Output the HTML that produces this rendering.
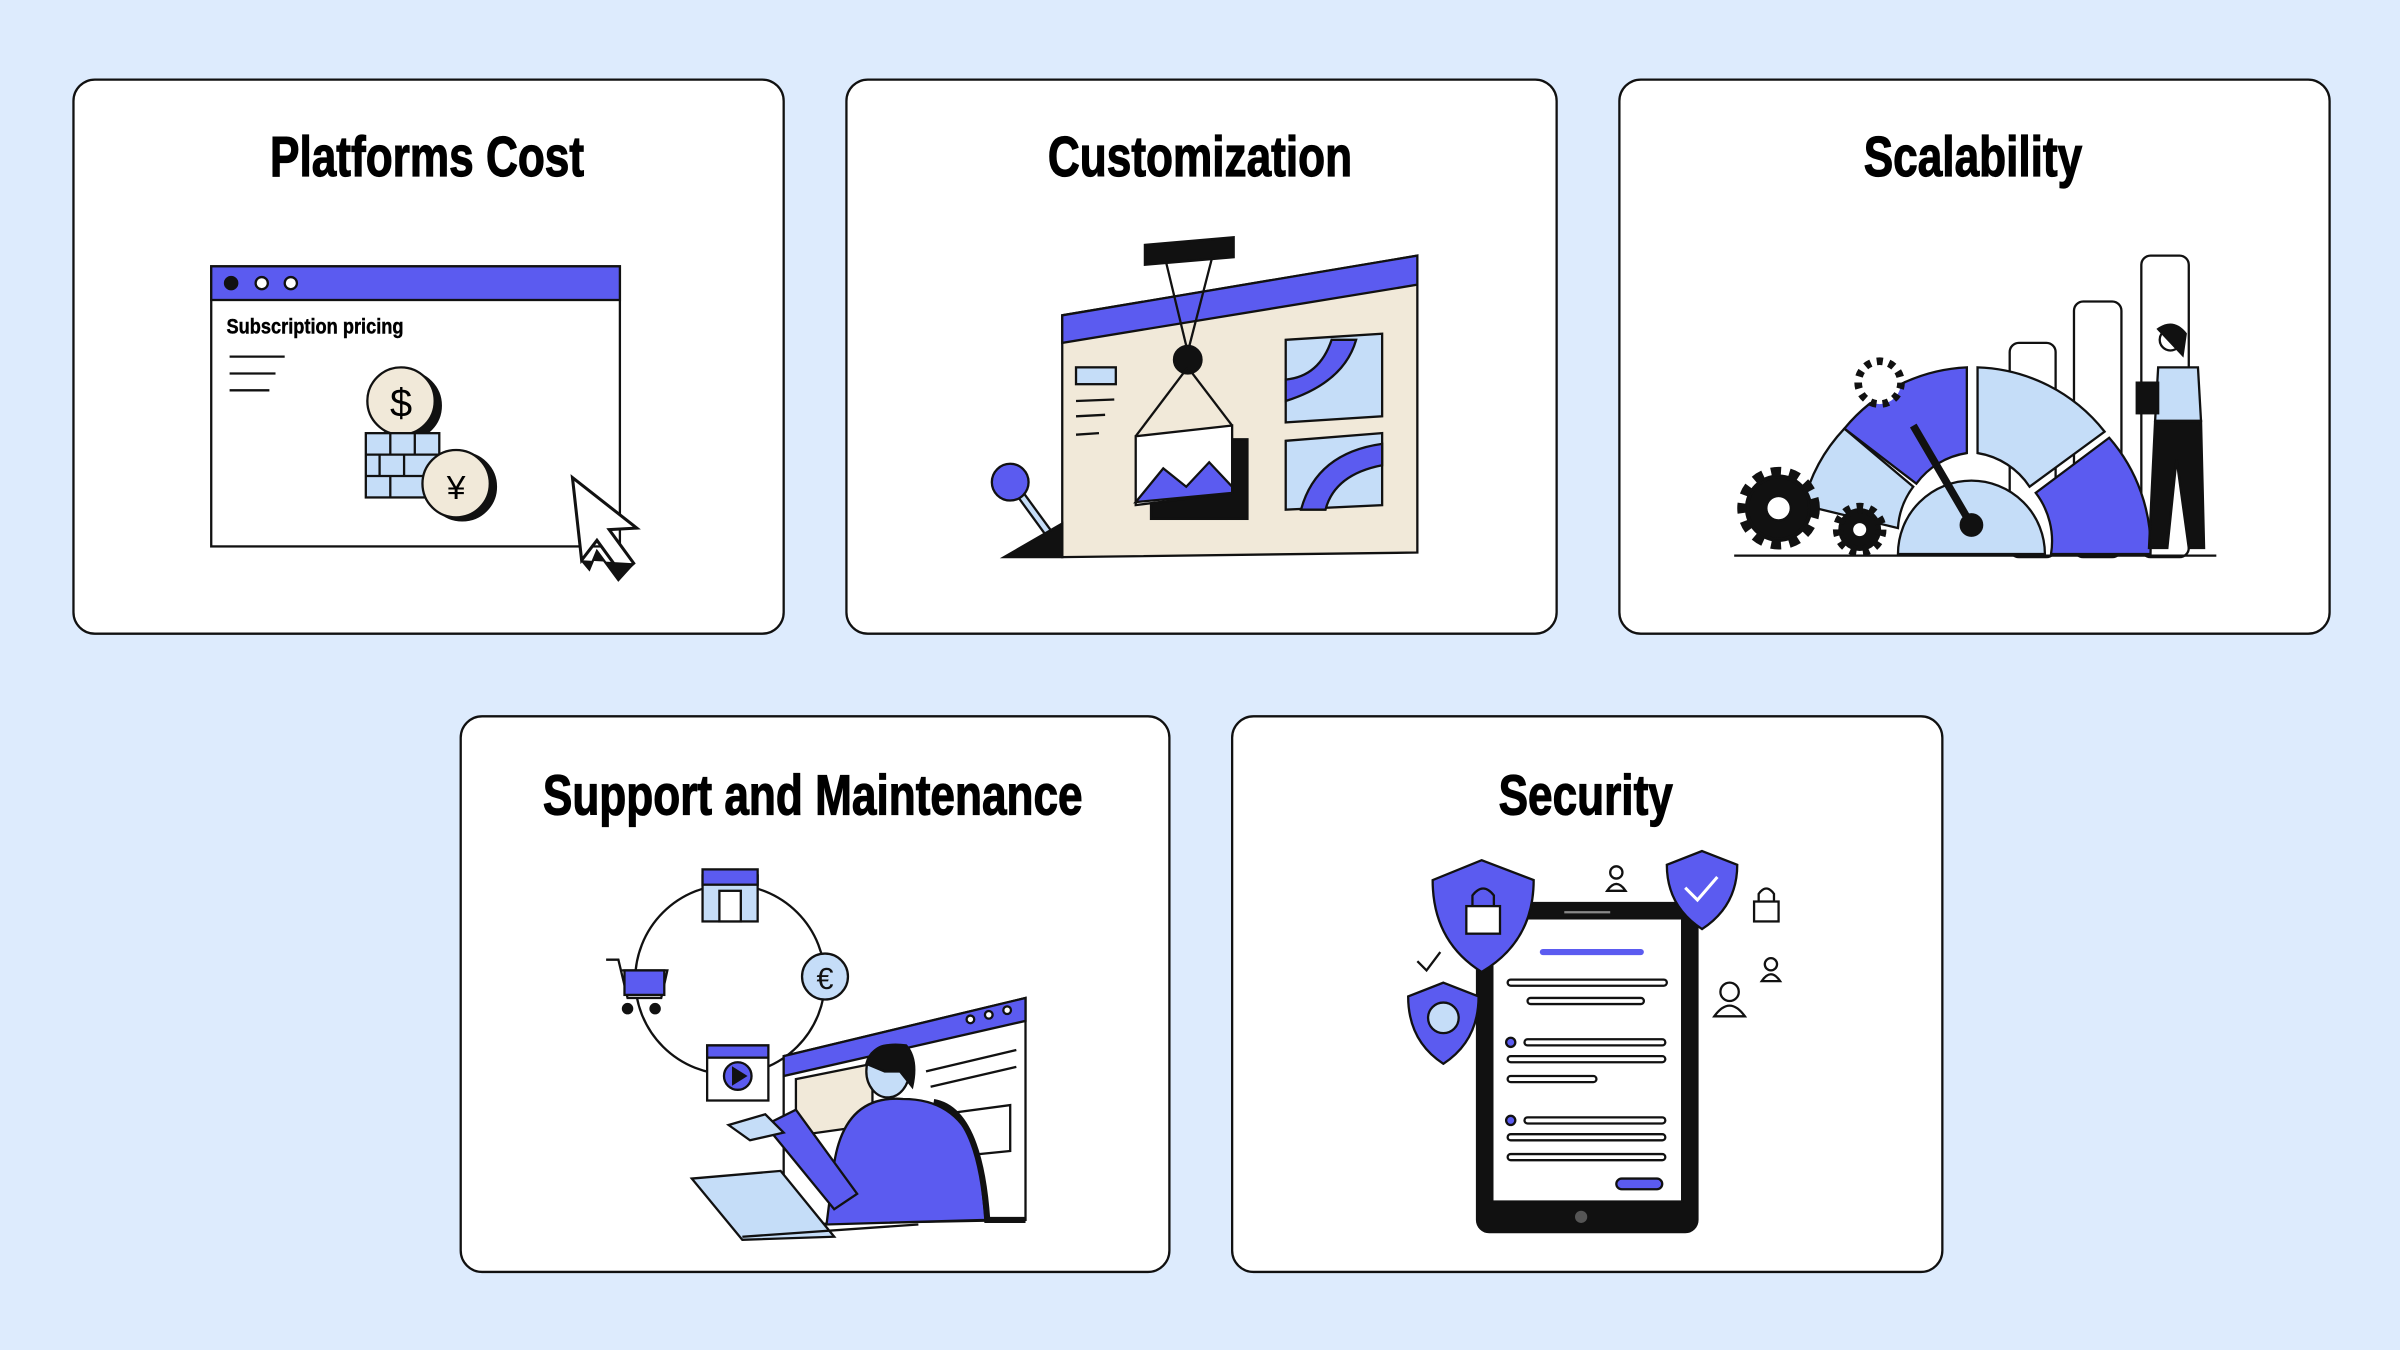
<!DOCTYPE html>
<html><head><meta charset="utf-8"><style>
html,body{margin:0;padding:0;background:#ddebfd;}
svg{display:block}
.t{font-family:"Liberation Sans Narrow","Liberation Sans",sans-serif;font-weight:bold;font-size:37px;fill:#000;stroke:#000;stroke-width:0.8;text-anchor:middle}
</style></head><body>
<svg width="2400" height="1350" viewBox="0 0 1568 882" xmlns="http://www.w3.org/2000/svg">
<rect width="1568" height="882" fill="#ddebfd"/>
<g fill="#fff" stroke="#111" stroke-width="1.5">
<rect x="48" y="52" width="464" height="362" rx="14"/>
<rect x="553" y="52" width="464" height="362" rx="14"/>
<rect x="1058" y="52" width="464" height="362" rx="14"/>
<rect x="301" y="468" width="463" height="363" rx="14"/>
<rect x="805" y="468" width="464" height="363" rx="14"/>
</g>
<text class="t" x="279" y="115" transform="translate(279 0) scale(0.78 1) translate(-279 0)">Platforms Cost</text>
<text class="t" x="784" y="115" transform="translate(784 0) scale(0.78 1) translate(-784 0)">Customization</text>
<text class="t" x="1289" y="115" transform="translate(1289 0) scale(0.78 1) translate(-1289 0)">Scalability</text>
<text class="t" x="531" y="532" transform="translate(531 0) scale(0.78 1) translate(-531 0)">Support and Maintenance</text>
<text class="t" x="1036" y="532" transform="translate(1036 0) scale(0.78 1) translate(-1036 0)">Security</text>

<!-- Card 1 -->
<g stroke="#111" stroke-width="1.5">
<rect x="138" y="174" width="267" height="183" fill="#fff"/>
<rect x="138" y="174" width="267" height="22" fill="#5b5bf0"/>
<circle cx="151" cy="185" r="4" fill="#111"/>
<circle cx="171" cy="185" r="4" fill="#fff"/>
<circle cx="190" cy="185" r="4" fill="#fff"/>
<line x1="150" y1="233" x2="186" y2="233"/><line x1="150" y1="244" x2="180" y2="244"/><line x1="150" y1="255" x2="176" y2="255"/>
<circle cx="266" cy="265" r="22" fill="#111"/>
<circle cx="262" cy="262" r="22" fill="#f1e9d9"/>
<rect x="239" y="283" width="48" height="42" fill="#c5ddf8"/>
<line x1="239" y1="297" x2="287" y2="297"/><line x1="239" y1="311" x2="287" y2="311"/>
<line x1="255" y1="283" x2="255" y2="297"/><line x1="271" y1="283" x2="271" y2="297"/>
<line x1="248" y1="297" x2="248" y2="311"/><line x1="264" y1="297" x2="264" y2="311"/><line x1="255" y1="311" x2="255" y2="325"/>
<circle cx="302" cy="318" r="22" fill="#111"/>
<circle cx="298" cy="316" r="22" fill="#f1e9d9"/>
<path d="M374 312 L416 345 L398 346 L414 368 L406 375 L390 353 L380 366 Z" fill="#fff" stroke-width="2"/>
<path d="M380 366 L385 372 L390 360 L404 379 L414 368" fill="#111"/>
</g>
<text x="148" y="218" transform="translate(148 0) scale(0.85 1) translate(-148 0)" font-family="Liberation Sans Narrow,Liberation Sans,sans-serif" font-weight="bold" font-size="14" stroke="#000" stroke-width="0.3">Subscription pricing</text>
<text x="262" y="272" text-anchor="middle" font-family="Liberation Sans,sans-serif" font-size="26">$</text>
<text x="298" y="326" text-anchor="middle" font-family="Liberation Sans,sans-serif" font-size="22">¥</text>

<!-- Card 2 -->
<g stroke="#111" stroke-width="1.5">
<path d="M694 206 L926 167 L926 361 L694 364 Z" fill="#f1e9d9"/>
<path d="M694 206 L926 167 L926 186 L694 224 Z" fill="#5b5bf0"/>
<rect x="703" y="240" width="26" height="11" fill="#c5ddf8"/>
<line x1="703" y1="262" x2="728" y2="261"/><line x1="703" y1="272" x2="722" y2="271"/><line x1="703" y1="284" x2="718" y2="283"/>
<path d="M840 222 L903 218 L903 272 L840 276 Z" fill="#c5ddf8"/>
<path d="M840 262 Q878 250 886 222 L870 222 Q862 246 840 248 Z" fill="#5b5bf0"/>
<path d="M840 288 L903 283 L903 330 L840 333 Z" fill="#c5ddf8"/>
<path d="M850 333 Q860 296 903 290 L903 304 Q872 310 866 333 Z" fill="#5b5bf0"/>
<path d="M748 160 L806 155 L806 168 L748 173 Z" fill="#111"/>
<line x1="762" y1="172" x2="776" y2="230"/><line x1="792" y1="168" x2="776" y2="230"/>
<circle cx="776" cy="235" r="9" fill="#111"/>
<line x1="776" y1="240" x2="742" y2="285"/><line x1="776" y1="240" x2="805" y2="278"/>
<rect x="752" y="287" width="63" height="52" fill="#111"/>
<path d="M742 285 L805 278 L805 322 L742 330 Z" fill="#fff"/>
<path d="M742 328 L760 306 L775 318 L790 302 L805 318 L805 322 Z" fill="#5b5bf0"/>
<line x1="663" y1="318" x2="690" y2="355" stroke-width="6"/>
<line x1="663" y1="318" x2="690" y2="355" stroke="#c5ddf8" stroke-width="3"/>
<circle cx="660" cy="315" r="12" fill="#5b5bf0"/>
<path d="M656 364 L694 364 L694 342 Z" fill="#111"/>
</g>

<!-- Card 3 -->
<g stroke="#111" stroke-width="1.5">
<rect x="1313" y="224" width="30" height="140" rx="6" fill="#fff"/>
<rect x="1355" y="197" width="31" height="167" rx="6" fill="#fff"/>
<rect x="1399" y="167" width="31" height="197" rx="6" fill="#fff"/>
<path d="M1178 330 A110 110 0 0 1 1205 280 L1250 318 A50 50 0 0 0 1240 345 Z" fill="#c5ddf8"/>
<path d="M1205 280 A110 110 0 0 1 1285 240 L1285 296 A50 50 0 0 0 1252 316 Z" fill="#5b5bf0"/>
<path d="M1292 240 A110 110 0 0 1 1375 282 L1326 318 A50 50 0 0 0 1292 296 Z" fill="#c5ddf8"/>
<path d="M1378 286 A110 110 0 0 1 1405 362 L1340 362 A52 52 0 0 0 1330 322 Z" fill="#5b5bf0"/>
<path d="M1240 362 A48 48 0 0 1 1336 362 Z" fill="#c5ddf8"/>
<line x1="1288" y1="343" x2="1250" y2="278" stroke-width="5"/>
<circle cx="1288" cy="343" r="7" fill="#111"/>
<circle cx="1162" cy="332" r="22" fill="#111" stroke-dasharray="6 5" stroke-width="10"/>
<circle cx="1162" cy="332" r="20" fill="#111"/>
<circle cx="1162" cy="332" r="8" fill="#fff"/>
<circle cx="1215" cy="346" r="14" fill="#111" stroke-dasharray="4 4" stroke-width="7"/>
<circle cx="1215" cy="346" r="5" fill="#fff"/>
<circle cx="1228" cy="250" r="14" fill="#fff" stroke-dasharray="4 4" stroke-width="5"/>
<line x1="1133" y1="363" x2="1448" y2="363"/>
<circle cx="1418" cy="222" r="7" fill="#fff"/>
<path d="M1410 215 Q1420 208 1428 218 L1426 232 Z" fill="#111"/>
<path d="M1410 240 L1436 240 L1438 275 L1408 275 Z" fill="#c5ddf8"/>
<path d="M1408 275 L1438 275 L1440 358 L1430 358 L1422 300 L1416 358 L1404 358 Z" fill="#111"/>
<rect x="1396" y="250" width="14" height="20" fill="#111"/>
</g>

<!-- Card 4 -->
<g stroke="#111" stroke-width="1.5" fill="none">
<circle cx="477" cy="640" r="62"/>
<rect x="459" y="572" width="36" height="30" fill="#c5ddf8"/>
<rect x="459" y="568" width="36" height="10" fill="#5b5bf0"/>
<rect x="470" y="582" width="14" height="20" fill="#fff"/>
<path d="M396 627 L404 627 L410 652 L432 652 L436 634 L405 634" fill="#fff"/>
<rect x="408" y="634" width="26" height="16" fill="#5b5bf0"/>
<circle cx="410" cy="659" r="3" fill="#111"/><circle cx="428" cy="659" r="3" fill="#111"/>
<circle cx="539" cy="638" r="15" fill="#c5ddf8"/>
<text x="539" y="646" text-anchor="middle" font-family="Liberation Sans,sans-serif" font-size="20" fill="#111" stroke="none">€</text>
<rect x="462" y="683" width="40" height="36" fill="#fff"/>
<rect x="462" y="683" width="40" height="8" fill="#5b5bf0"/>
<circle cx="482" cy="703" r="9" fill="#5b5bf0"/>
<path d="M479 698 L487 703 L479 708 Z" fill="#111"/>
<path d="M512 690 L670 652 L670 797 L512 800 Z" fill="#fff"/>
<path d="M512 690 L670 652 L670 667 L512 703 Z" fill="#5b5bf0"/>
<circle cx="634" cy="666" r="2.5" fill="#fff"/><circle cx="646" cy="663" r="2.5" fill="#fff"/><circle cx="658" cy="660" r="2.5" fill="#fff"/>
<path d="M520 705 L570 695 L570 735 L520 742 Z" fill="#f1e9d9"/>
<line x1="605" y1="700" x2="664" y2="686"/><line x1="608" y1="710" x2="664" y2="697"/>
<path d="M600 730 L660 722 L660 752 L600 758 Z"/>
<path d="M545 760 Q552 715 590 718 Q630 718 640 760 L644 797 L540 800 Z" fill="#5b5bf0"/>
<path d="M500 735 L545 790 L560 780 L520 725 Z" fill="#5b5bf0"/>
<path d="M610 720 Q640 725 645 797 L670 797" stroke-width="4"/>
<ellipse cx="580" cy="700" rx="14" ry="17" fill="#c5ddf8"/>
<path d="M566 695 Q570 680 592 683 Q600 692 596 710 L588 700 L578 700 Z" fill="#111"/>
<path d="M476 735 L500 728 L512 740 L490 745 Z" fill="#c5ddf8"/>
<path d="M452 770 L510 765 L545 808 L485 810 Z" fill="#c5ddf8"/>
<line x1="485" y1="808" x2="600" y2="800"/>
</g>

<!-- Card 5 -->
<g stroke="#111" stroke-width="1.5">
<rect x="965" y="590" width="144" height="215" rx="8" fill="#111"/>
<rect x="975" y="600" width="124" height="185" fill="#fff"/>
<circle cx="1033" cy="795" r="4" fill="#555" stroke="none"/>
<line x1="1022" y1="596" x2="1052" y2="596" stroke="#888"/>
<rect x="1006" y="620" width="68" height="4" rx="2" fill="#5b5bf0" stroke="none"/>
<g fill="#fff">
<rect x="985" y="640" width="104" height="4" rx="2"/><rect x="998" y="652" width="76" height="4" rx="2"/>
<rect x="996" y="679" width="92" height="4" rx="2"/><rect x="985" y="690" width="103" height="4" rx="2"/><rect x="985" y="703" width="58" height="4" rx="2"/>
<rect x="996" y="730" width="92" height="4" rx="2"/><rect x="985" y="741" width="103" height="4" rx="2"/><rect x="985" y="754" width="103" height="4" rx="2"/>
</g>
<circle cx="987" cy="681" r="3" fill="#5b5bf0"/><circle cx="987" cy="732" r="3" fill="#5b5bf0"/>
<rect x="1056" y="770" width="30" height="7" rx="3.5" fill="#5b5bf0"/>
<path d="M968 562 L1002 575 Q1002 615 968 635 Q936 615 936 575 Z" fill="#5b5bf0"/>
<rect x="958" y="592" width="22" height="18" fill="#fff"/>
<path d="M962 592 L962 585 Q969 576 976 585 L976 592" fill="none"/>
<path d="M943 642 L966 651 Q966 680 943 695 Q920 680 920 651 Z" fill="#5b5bf0"/>
<circle cx="943" cy="665" r="10" fill="#c5ddf8"/>
<path d="M1112 556 L1135 565 Q1135 592 1112 607 Q1089 592 1089 565 Z" fill="#5b5bf0"/>
<path d="M1101 580 L1109 588 L1122 573" fill="none" stroke="#fff" stroke-width="2"/>
<path d="M926 628 L932 634 L941 622" fill="none"/>
<rect x="1146" y="589" width="16" height="13" fill="#fff"/>
<path d="M1149 589 L1149 584 Q1154 577 1159 584 L1159 589" fill="none"/>
<circle cx="1056" cy="570" r="4" fill="#fff"/><path d="M1050 582 Q1056 573 1062 582 Z" fill="#fff"/>
<circle cx="1157" cy="630" r="4" fill="#fff"/><path d="M1151 641 Q1157 632 1163 641 Z" fill="#fff"/>
<circle cx="1130" cy="648" r="6" fill="#fff"/><path d="M1120 664 Q1130 650 1140 664 Z" fill="#fff"/>
</g>
</svg>
</body></html>
